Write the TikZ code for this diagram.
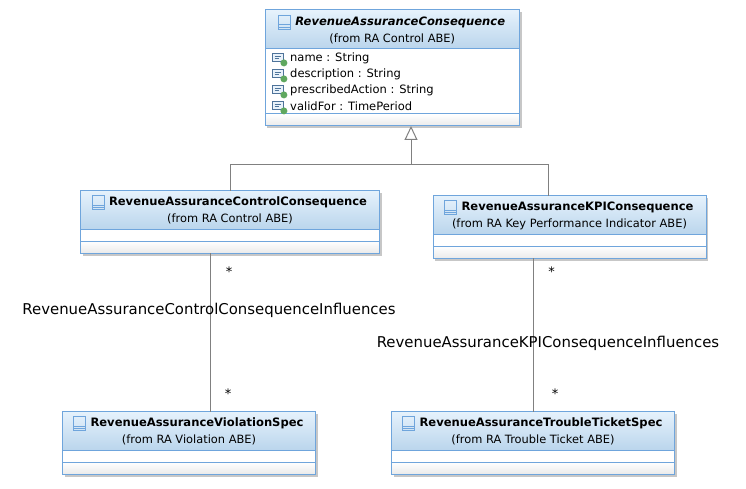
\documentclass[tikz,border=0pt]{standalone}
\usepackage{fontspec}
\setmainfont{DejaVu Sans}
\usetikzlibrary{positioning}
\usetikzlibrary{shadows}
\usetikzlibrary{arrows.meta}
\usetikzlibrary{calc}

\definecolor{boxline}{HTML}{6FA5DC}
\definecolor{headtop}{HTML}{E6F2FC}
\definecolor{headbottom}{HTML}{BAD5EC}
\definecolor{linkgray}{HTML}{808080}
\definecolor{attrgreen}{HTML}{5FA85F}

\tikzset{
  part/.style={draw=boxline, line width=1pt, inner sep=0pt, outer sep=0pt, fill=white},
  headpart/.style={part, top color=headtop, bottom color=headbottom},
  footpart/.style={part, top color=white, bottom color=black!8},
  boxshadow/.style={drop shadow={shadow xshift=2pt, shadow yshift=-2.5pt, fill=black, opacity=0.22}},
  titletext/.style={inner sep=0pt, font=\fontsize{11.55}{13}\selectfont\bfseries},
  fromtext/.style={inner sep=0pt, font=\fontsize{11.4}{13}\selectfont},
  attrtext/.style={inner sep=0pt, anchor=west, font=\fontsize{11.5}{13}\selectfont},
  linktext/.style={inner sep=0pt, font=\fontsize{14.9}{16}\selectfont},
  startext/.style={inner sep=0pt, font=\fontsize{13}{15}\selectfont},
  link/.style={draw=linkgray, line width=1pt},
}

% name, x, y, width, attribute height, title, from
\newcommand{\classbox}[7]{
  \node[part, boxshadow, anchor=north west, minimum width=#4pt, minimum height=#5pt+51pt] at (#2,#3) {};
  \node[headpart, anchor=north west, minimum width=#4pt, minimum height=39pt] (#1head) at (#2,#3) {};
  \node[part, below=0pt of #1head, minimum width=#4pt, minimum height=#5pt] (#1attr) {};
  \node[footpart, below=0pt of #1attr, minimum width=#4pt, minimum height=12pt] (#1foot) {};
  \node[titletext] (#1title) at ($(#1head.center)+(8,-7.5)$) {#6};
  \node[fromtext] (#1from) at ($(#1head.center)+(0,9)$) {#7};
  \node[left=4pt of #1title, minimum width=12pt, minimum height=14pt, inner sep=0pt,
        draw=boxline, line width=0.9pt] (#1icon) {};
  \draw[boxline, line width=0.9pt] ($(#1icon.west)+(0,2.5)$) -- ($(#1icon.east)+(0,2.5)$);
  \draw[boxline, line width=0.9pt] ($(#1icon.west)+(0,5)$) -- ($(#1icon.east)+(0,5)$);
}

\begin{document}
\begin{tikzpicture}[x=1pt, y=-1pt]
  \useasboundingbox (0,0) rectangle (746,489);

  \coordinate (genjoint) at (411,165);
  \coordinate (kpijoint) at (548.5,165);
  \coordinate (leftlink) at (210,330);
  \coordinate (rightlink) at (533.5,330);

  % the boxes
  \classbox{top}{265}{10}{254.5}{65}{\itshape RevenueAssuranceConsequence}{(from RA Control ABE)}
  \classbox{ctrl}{80.5}{190.5}{299}{11.5}{RevenueAssuranceControlConsequence}{(from RA Control ABE)}
  \classbox{kpi}{433}{195.5}{273}{11.5}{RevenueAssuranceKPIConsequence}{(from RA Key Performance Indicator ABE)}
  \classbox{vio}{62.5}{411.5}{253}{11.5}{RevenueAssuranceViolationSpec}{(from RA Violation ABE)}
  \classbox{tick}{391.5}{411.5}{283}{11.5}{RevenueAssuranceTroubleTicketSpec}{(from RA Trouble Ticket ABE)}

  \foreach \name/\ypos/\attr in {a/58/name : String, b/74/description : String,
      c/90/prescribedAction : String, d/106/validFor : TimePeriod} {
    \node[attrtext] (attr\name) at (290,\ypos) {\attr};
    \node[minimum width=11pt, minimum height=8pt, inner sep=0pt,
          draw=boxline!70!black, fill=boxline!15, line width=0.8pt] (icon\name) at ($(attr\name.west)+(-12.5,-1)$) {};
    \draw[boxline!70!black, line width=0.7pt] ($(icon\name.center)+(-3,-1)$) -- ($(icon\name.center)+(3,-1)$);
    \draw[boxline!70!black, line width=0.7pt] ($(icon\name.center)+(-3,1.5)$) -- ($(icon\name.center)+(1,1.5)$);
    \node[circle, fill=attrgreen, inner sep=0pt, minimum size=7pt] (dot\name) at ($(icon\name.south east)+(0.5,1.5)$) {};
  }

  \draw[link] (ctrlhead.north) |- (genjoint);
  \draw[link] (kpihead.north -| kpijoint) |- (genjoint);
  \draw[link, -{Triangle[open, fill=white, length=14pt, width=13pt]}] (genjoint) -- (topfoot.south -| genjoint);
  \draw[link] (ctrlfoot.south -| leftlink) -- (viohead.north -| leftlink);
  \draw[link] (kpifoot.south -| rightlink) -- (tickhead.north -| rightlink);

  \node[startext] (stara) at (229,271.5) {*};
  \node[startext] (starb) at (228,393.5) {*};
  \node[startext] (starc) at (551.5,271.5) {*};
  \node[startext] (stard) at (555,393.5) {*};
  \node[linktext] (ctrllabel) at (209,310) {RevenueAssuranceControlConsequenceInfluences};
  \node[linktext] (kpilabel) at (548,343) {RevenueAssuranceKPIConsequenceInfluences};
\end{tikzpicture}
\end{document}
